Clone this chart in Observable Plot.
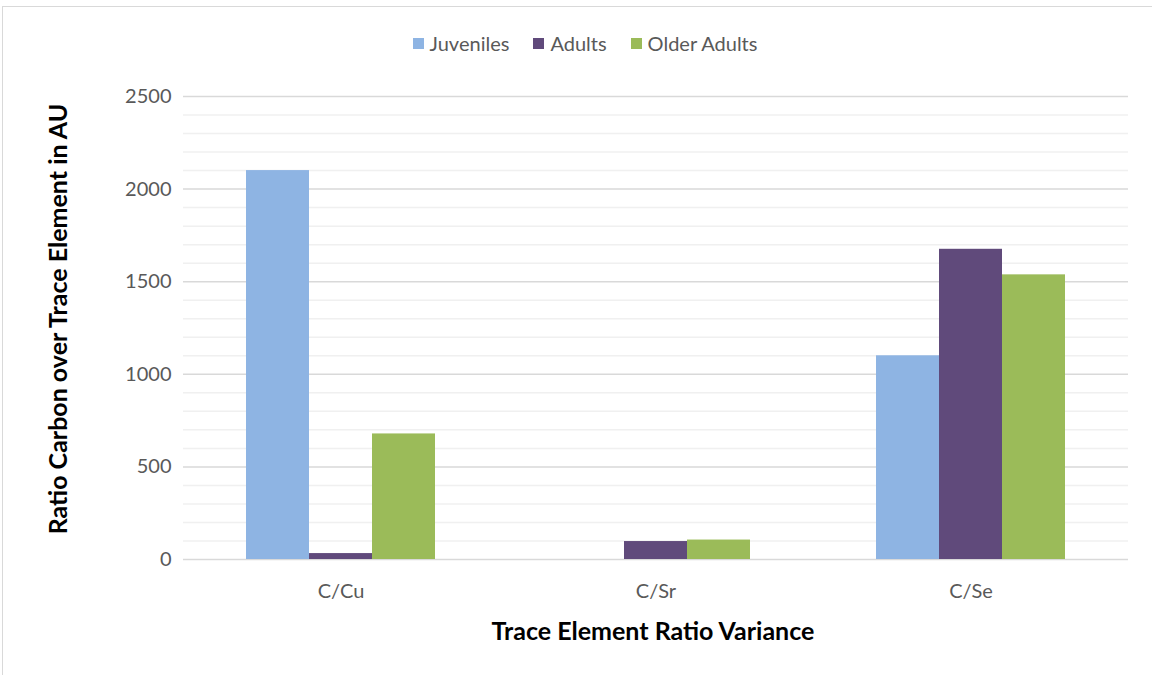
<!DOCTYPE html>
<html>
<head>
<meta charset="utf-8">
<script src="https://cdn.jsdelivr.net/npm/d3@7"></script>
<script src="https://cdn.jsdelivr.net/npm/@observablehq/plot@0.6"></script>
<style>
  html, body { margin: 0; padding: 0; background: #fff; }
  body { width: 1152px; height: 675px; position: relative; overflow: hidden; font-family: Lato, "Open Sans", sans-serif; }
  #frame { position: absolute; left: 2px; top: 6px; width: 1160px; height: 700px; border-top: 1px solid #d9d9d9; border-left: 1px solid #d9d9d9; box-sizing: border-box; pointer-events: none; }
  #legend { position: absolute; left: 0; top: 31px; width: 1170px; display: flex; justify-content: center; align-items: center; font-size: 20px; color: #595959; }
  .item { display: flex; align-items: center; margin: 0 12px; }
  .sw { width: 11px; height: 11px; margin-right: 6px; }
  #chart { position: absolute; left: 0; top: 67px; }
  #xtitle { position: absolute; left: 0; width: 1306px; top: 615px; text-align: center; font-size: 25px; font-weight: bold; color: #000; }
  #ytitle { position: absolute; left: 57px; top: 319px; transform: translate(-50%, -50%) rotate(-90deg); white-space: nowrap; font-size: 25px; font-weight: bold; color: #000; }
</style>
</head>
<body>
<div id="frame"></div>
<div id="legend"></div>
<div id="chart"></div>
<div id="xtitle"></div>
<div id="ytitle"></div>
<script>
const categories = ["C/Cu", "C/Sr", "C/Se"];
const series = ["Juveniles", "Adults", "Older Adults"];
const juveniles = [2100, 0, 1100];
const adults = [32, 97, 1675];
const olderAdults = [678, 105, 1537];
const yTicks = [0, 500, 1000, 1500, 2000, 2500];
const colors = ["#8eb4e3", "#604a7b", "#9bbb59"];
const xTitle = "Trace Element Ratio Variance";
const yTitle = "Ratio Carbon over Trace Element in AU";

const valuesBySeries = [juveniles, adults, olderAdults];
const rows = [];
categories.forEach((c, i) => series.forEach((s, j) => rows.push({category: c, series: s, value: valuesBySeries[j][i]})));
const minorTicks = d3.range(0, 2501, 100).filter(v => v % 500 !== 0);

const legend = document.getElementById("legend");
series.forEach((s, j) => {
  const it = document.createElement("div");
  it.className = "item";
  const sw = document.createElement("div");
  sw.className = "sw";
  sw.style.background = colors[j];
  const tx = document.createElement("span");
  tx.textContent = s;
  it.appendChild(sw); it.appendChild(tx);
  legend.appendChild(it);
});
document.getElementById("xtitle").textContent = xTitle;
document.getElementById("ytitle").textContent = yTitle;

const chart = Plot.plot({
  width: 1152,
  height: 608,
  marginTop: 29,
  marginBottom: 116,
  marginLeft: 183,
  marginRight: 24,
  style: {fontFamily: "Lato, 'Open Sans', sans-serif", fontSize: "20px", color: "#595959", background: "transparent"},
  fx: {domain: categories, paddingInner: 0, paddingOuter: 0, axis: "bottom", tickSize: 0, tickPadding: 24, label: null},
  x: {domain: series, paddingInner: 0, paddingOuter: 1, axis: null},
  y: {domain: [0, 2500], ticks: yTicks, tickFormat: d => String(d), tickSize: 0, tickPadding: 12, label: null},
  color: {domain: series, range: colors},
  marks: [
    Plot.ruleY(minorTicks, {stroke: "#f0f0f0", strokeWidth: 1.5}),
    Plot.ruleY(yTicks, {stroke: "#d9d9d9", strokeWidth: 1.5}),
    Plot.barY(rows, {fx: "category", x: "series", y: "value", fill: "series"})
  ]
});
document.getElementById("chart").appendChild(chart);
</script>
</body>
</html>
